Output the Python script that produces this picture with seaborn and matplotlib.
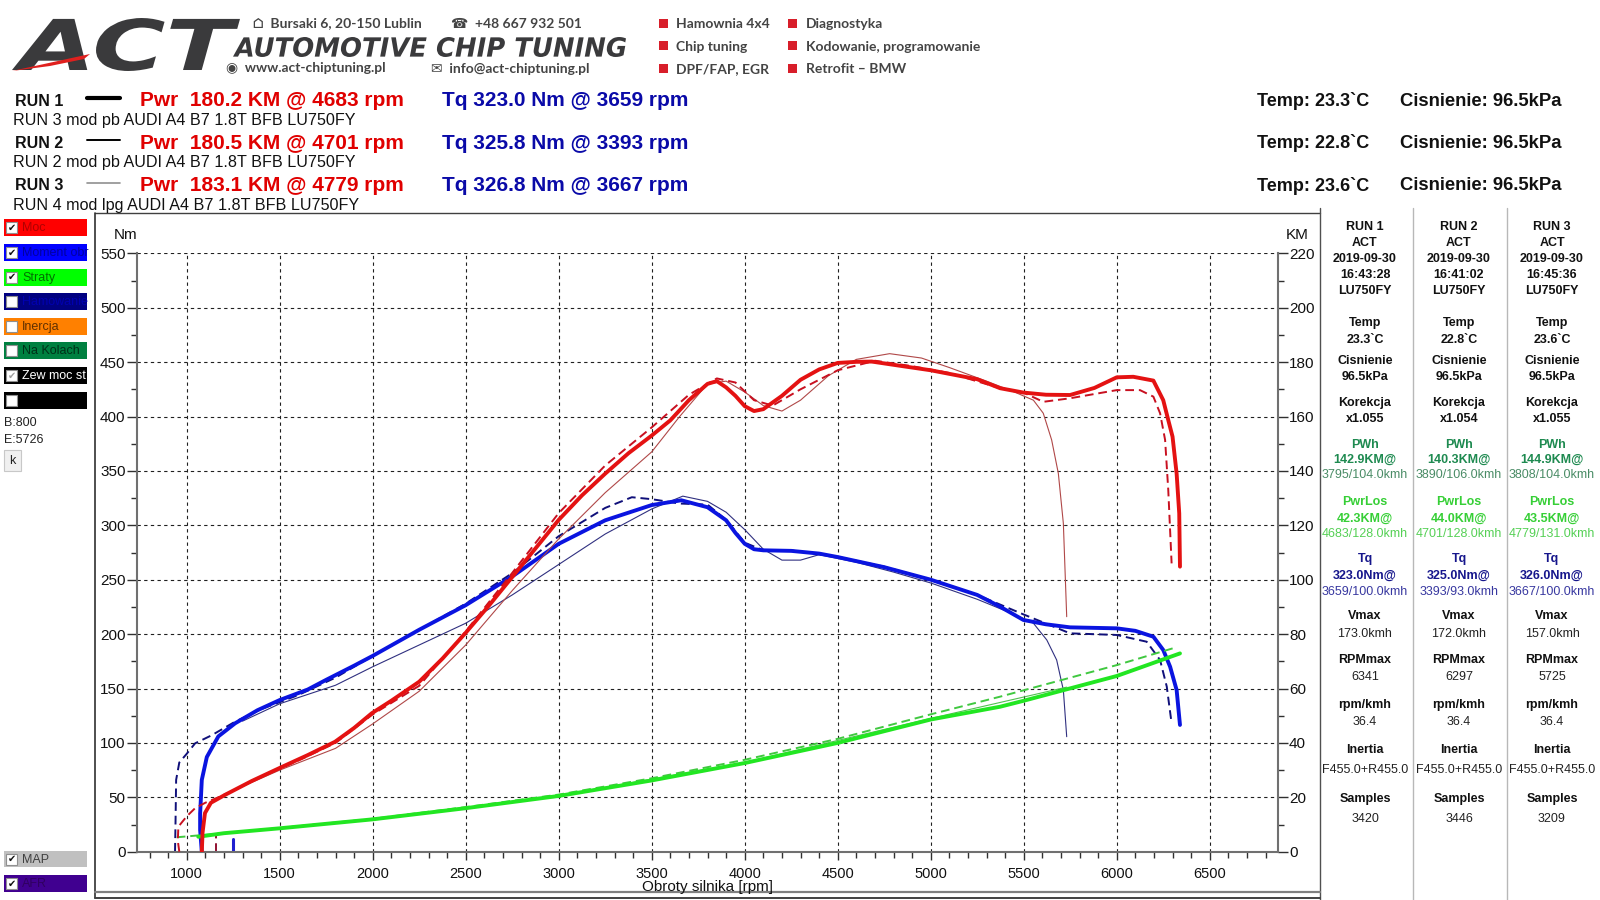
import matplotlib
matplotlib.use('Agg')
import numpy as np
import pandas as pd
import seaborn as sns
import matplotlib.pyplot as plt
from matplotlib.patches import Rectangle, Polygon, PathPatch
from matplotlib.lines import Line2D
from matplotlib.textpath import TextPath
from matplotlib.font_manager import FontProperties
from matplotlib.transforms import Affine2D
from matplotlib.ticker import MultipleLocator

# ---- dyno curves ----

# RUN 1 (thick solid)
r1_pwr_rpm = [1081, 1085, 1098, 1130, 1206, 1350, 1500, 1650, 1797, 1900, 1995, 2100, 2250, 2375, 2500,
              2625, 2750, 2875, 3000, 3125, 3250, 3375, 3500, 3600, 3700, 3800, 3850, 3900, 3950, 4000,
              4050, 4100, 4200, 4300, 4400, 4500, 4600, 4683, 4850, 5000, 5250, 5373, 5498, 5620, 5749,
              5880, 6000, 6089, 6197, 6250, 6277, 6300, 6322, 6336, 6340]
r1_pwr_km = [0, 7, 14.2, 18, 20.9, 26, 30.8, 35.5, 40.4, 45.5, 50.9, 55.5, 62.5, 71, 80.5,
             90.5, 101, 111.5, 122, 131, 139, 146.5, 153, 158.6, 166, 172, 173, 170.7, 167.6, 163.8,
             162, 162.7, 167.6, 173.5, 177.3, 179.7, 180.1, 180.2, 178.5, 177, 173.7, 170.4, 168.8, 168, 167.9,
             170.5, 174.4, 174.6, 173.2, 166, 158.7, 152.6, 139, 124.4, 104.8]
r1_tq_rpm = [1081, 1072, 1072, 1081, 1108, 1170, 1260, 1380, 1500, 1650, 1750, 1900, 2000, 2250, 2500,
             2750, 3000, 3250, 3500, 3659, 3800, 3900, 3950, 4000, 4050, 4100, 4250, 4400, 4500, 4750,
             5000, 5250, 5373, 5498, 5620, 5749, 6000, 6100, 6197, 6250, 6287, 6322, 6340]
r1_tq_nm = [0, 20, 35, 66, 87, 106, 118, 130, 139.4, 149, 158, 171, 180, 204, 226.6,
            253, 283, 304.6, 318.6, 323, 316.6, 304.6, 293, 283, 278, 277, 276.5, 274, 270.8, 261.5,
            250, 236, 225.2, 213, 209, 206.2, 205.3, 203, 197.6, 185.4, 170, 148.6, 116.5]
r1_loss_rpm = [1062, 1200, 1500, 2000, 2500, 3000, 3500, 4000, 4500, 5000, 5373, 5500, 6000, 6340]
r1_loss_km = [5.5, 6.8, 8.6, 11.9, 16.0, 20.5, 26.2, 32.6, 40, 48.6, 53.3, 55.5, 64.6, 72.9]

# RUN 2 (dashed)
r2_pwr_rpm = [960, 952, 955, 1000, 1045, 1100, 1170, 1250, 1400, 1600, 1800, 2000, 2250, 2500,
              2750, 3000, 3250, 3500, 3700, 3850, 3950, 4050, 4150, 4300, 4500, 4701, 4900, 5100,
              5373, 5498, 5605, 5749, 6000, 6125, 6197, 6233, 6260, 6277, 6295]
r2_pwr_km = [0, 4, 9.2, 13, 16, 18, 20, 22.5, 27.5, 33.5, 40, 50.5, 61, 81,
             102.5, 124.5, 142, 156, 168, 174, 172.5, 166, 164, 170, 177, 180.5, 178.5, 176,
             170.4, 168.8, 165.4, 166.7, 169.7, 169.7, 167.3, 161.2, 151.4, 133, 106]
r2_tq_rpm = [937, 940, 943, 960, 1000, 1045, 1134, 1260, 1400, 1600, 1800, 2000, 2250, 2500,
             2750, 3000, 3250, 3393, 3500, 3650, 3800, 3900, 4000, 4100, 4250, 4500, 4750, 5000,
             5250, 5500, 5749, 6000, 6161, 6233, 6269, 6295]
r2_tq_nm = [0, 30, 66, 82, 90, 99.6, 107, 119.5, 131, 144, 160, 180, 204, 228,
            256, 290, 316, 325.8, 324, 320, 319, 305, 284, 277, 277, 271, 262, 250,
            236, 218, 200.7, 199.2, 193, 176.2, 151.7, 118]
r2_loss_rpm = [946, 1200, 1500, 2000, 2500, 3000, 3500, 4000, 4500, 5000, 5373, 6000, 6303]
r2_loss_km = [5.3, 6.8, 8.7, 12.1, 16.4, 21, 27, 33.8, 41.5, 50.5, 57, 68.6, 74.8]

# RUN 3 (thin)
r3_pwr_rpm = [1300, 1500, 1800, 2000, 2250, 2500, 2750, 3000, 3250, 3500, 3650, 3800, 3900, 4000,
              4100, 4200, 4300, 4450, 4600, 4779, 4950, 5100, 5300, 5450, 5552, 5605, 5650, 5686, 5713, 5731]
r3_pwr_km = [24, 30, 38, 47, 59, 76, 96, 115, 132, 147, 160, 172, 173, 169,
             164, 162, 166, 175, 181, 183.1, 181.5, 178, 173, 169, 166, 161.2, 151.4, 139.1, 120.7, 86.4]
r3_tq_rpm = [1300, 1500, 1800, 2000, 2250, 2500, 2750, 3000, 3250, 3500, 3667, 3800, 3900, 4000,
             4100, 4200, 4300, 4400, 4600, 4800, 5000, 5250, 5450, 5552, 5624, 5677, 5713, 5731]
r3_tq_nm = [120, 136, 153, 170, 190, 210, 236, 264, 292, 315, 326.8, 322, 312, 296,
            278, 268, 268, 273, 266, 257, 247, 232, 218, 210, 194.6, 176.2, 148.6, 105.7]
r3_loss_rpm = [1300, 2000, 3000, 4000, 5000, 5731]
r3_loss_km = [7.6, 12, 20.6, 32.8, 49, 60.5]

# short start stubs near the bottom
stub_rpm = [1247, 1247]
stub_nm = [0, 12]
stub2_rpm = [1156, 1156]
stub2_nm = [0, 15]

# ---- header / table text ----
run_names = ['RUN 1', 'RUN 2', 'RUN 3']
run_desc = ['RUN 3 mod pb AUDI A4 B7 1.8T BFB LU750FY',
            'RUN 2 mod pb AUDI A4 B7 1.8T BFB LU750FY',
            'RUN 4 mod lpg AUDI A4 B7 1.8T BFB LU750FY']
run_pwr = [180.2, 180.5, 183.1]
run_pwr_rpm = [4683, 4701, 4779]
run_tq = [323.0, 325.8, 326.8]
run_tq_rpm = [3659, 3393, 3667]
run_temp = ['23.3', '22.8', '23.6']
run_press = ['96.5', '96.5', '96.5']

services_a = ['Hamownia 4x4', 'Chip tuning', 'DPF/FAP, EGR']
services_b = ['Diagnostyka', 'Kodowanie, programowanie', 'Retrofit – BMW']

tbl_time = ['16:43:28', '16:41:02', '16:45:36']
tbl_corr = ['x1.055', 'x1.054', 'x1.055']
tbl_pwh = ['142.9KM@', '140.3KM@', '144.9KM@']
tbl_pwh_at = ['3795/104.0kmh', '3890/106.0kmh', '3808/104.0kmh']
tbl_los = ['42.3KM@', '44.0KM@', '43.5KM@']
tbl_los_at = ['4683/128.0kmh', '4701/128.0kmh', '4779/131.0kmh']
tbl_tq = ['323.0Nm@', '325.0Nm@', '326.0Nm@']
tbl_tq_at = ['3659/100.0kmh', '3393/93.0kmh', '3667/100.0kmh']
tbl_vmax = ['173.0kmh', '172.0kmh', '157.0kmh']
tbl_rpmmax = ['6341', '6297', '5725']
tbl_rpmkmh = ['36.4', '36.4', '36.4']
tbl_inertia = ['F455.0+R455.0'] * 3
tbl_samples = ['3420', '3446', '3209']

chk_labels = ['Moc', 'Moment obr', 'Straty', 'Hamowanie', 'Inercja', 'Na Kolach', 'Zew moc st', '']
chk_bg = ['#ff0000', '#0000ff', '#00ff00', '#000080', '#ff8000', '#008040', '#000000', '#000000']
chk_fg = ['#b00000', '#0000a0', '#007000', '#0000b0', '#603000', '#003018', '#ffffff', '#ffffff']
chk_on = [True, True, True, False, False, False, True, False]

sns.set_theme(style='white')
plt.rcParams['font.family'] = ['Liberation Sans', 'DejaVu Sans']

W, H = 1600, 900
fig = plt.figure(figsize=(16, 9), dpi=100, facecolor='white')


def fx(x):
    return x / W


def fy(y):
    return 1 - y / H


def txt(x, y, s, **kw):
    kw.setdefault('va', 'center')
    fig.text(fx(x), fy(y), s, **kw)


def rect(x0, y0, x1, y1, **kw):
    fig.add_artist(Rectangle((fx(x0), fy(y1)), (x1 - x0) / W, (y1 - y0) / H,
                             transform=fig.transFigure, **kw))


def seg(x0, y0, x1, y1, **kw):
    fig.add_artist(Line2D([fx(x0), fx(x1)], [fy(y0), fy(y1)], transform=fig.transFigure, **kw))


def fit_text(s, x0, y0, x1, y1, color, **fp):
    tp = TextPath((0, 0), s, size=100, prop=FontProperties(**fp))
    bb = tp.get_extents()
    tr = Affine2D().translate(-bb.x0, -bb.y0).scale((x1 - x0) / bb.width / W,
                                                    (y1 - y0) / bb.height / H).translate(fx(x0), fy(y1))
    fig.add_artist(PathPatch(tr.transform_path(tp), fc=color, lw=0, transform=fig.transFigure))


# ---- main chart ----
ax = fig.add_axes([136.7 / W, 1 - 851.7 / H, (1278 - 136.7) / W, (851.7 - 253.3) / H])
ax2 = ax.twinx()

dash = (0, (4.5, 2.5))
sns.lineplot(x=r3_tq_rpm, y=r3_tq_nm, ax=ax, sort=False, estimator=None, color='#303080', lw=0.8)
sns.lineplot(x=r2_tq_rpm, y=r2_tq_nm, ax=ax, sort=False, estimator=None, color='#10107a', lw=1.4, ls=dash)
sns.lineplot(x=r1_tq_rpm, y=r1_tq_nm, ax=ax, sort=False, estimator=None, color='#0a14e0', lw=2.8)
sns.lineplot(x=stub_rpm, y=stub_nm, ax=ax, sort=False, estimator=None, color='#2020d0', lw=2.2)
sns.lineplot(x=stub2_rpm, y=stub2_nm, ax=ax, sort=False, estimator=None, color='#901030', lw=1.4, ls=dash)

sns.lineplot(x=r3_loss_rpm, y=r3_loss_km, ax=ax2, sort=False, estimator=None, color='#50c050', lw=0.8)
sns.lineplot(x=r2_loss_rpm, y=r2_loss_km, ax=ax2, sort=False, estimator=None, color='#40c840', lw=1.4, ls=dash)
sns.lineplot(x=r1_loss_rpm, y=r1_loss_km, ax=ax2, sort=False, estimator=None, color='#22e622', lw=2.8)
sns.lineplot(x=r3_pwr_rpm, y=r3_pwr_km, ax=ax2, sort=False, estimator=None, color='#b04848', lw=0.8)
sns.lineplot(x=r2_pwr_rpm, y=r2_pwr_km, ax=ax2, sort=False, estimator=None, color='#c81020', lw=1.4, ls=dash)
sns.lineplot(x=r1_pwr_rpm, y=r1_pwr_km, ax=ax2, sort=False, estimator=None, color='#e41212', lw=2.8)

ax.set_xlim(731, 6867)
ax.set_ylim(0, 550)
ax2.set_ylim(0, 220)
for a in (ax, ax2):
    a.set_xlabel('')
    a.set_ylabel('')
    a.spines['top'].set_visible(False)
ax.spines['right'].set_visible(False)
ax2.spines['left'].set_visible(False)
ax2.spines['bottom'].set_visible(False)
for sp in (ax.spines['left'], ax.spines['bottom'], ax2.spines['right']):
    sp.set_color('#707070')
    sp.set_linewidth(1.5)

ax.set_xticks(range(1000, 6501, 500))
ax.set_yticks(range(0, 551, 50))
ax2.set_yticks(range(0, 221, 20))
ax.xaxis.set_minor_locator(MultipleLocator(100))
ax.yaxis.set_minor_locator(MultipleLocator(25))
ax2.yaxis.set_minor_locator(MultipleLocator(10))
ax.tick_params(axis='both', which='both', direction='out', color='#303030', labelcolor='#111111')
ax.tick_params(axis='x', which='major', bottom=True, length=6, width=1, labelsize=10.5, pad=5)
ax.tick_params(axis='x', which='minor', bottom=True, length=4, width=1)
ax.tick_params(axis='y', which='major', left=True, length=7, width=1, labelsize=11, pad=1)
ax.tick_params(axis='y', which='minor', left=True, length=4, width=1)
ax2.tick_params(axis='y', which='major', right=True, left=False, length=7, width=1, labelsize=11, pad=1,
                color='#303030', labelcolor='#111111')
ax2.tick_params(axis='y', which='minor', right=True, left=False, length=4, width=1, color='#303030')
ax.grid(True, which='major', color='#202020', ls=(0, (3, 3)), lw=0.8)
ax2.grid(False)

txt(114, 235, 'Nm', fontsize=11, color='#111111')
txt(1286, 235, 'KM', fontsize=11, color='#111111')
txt(707, 887, 'Obroty silnika [rpm]', fontsize=11, ha='center', color='#111111')

# ---- panel frames ----
seg(95, 212.5, 1320, 212.5, color='#404040', lw=1)
seg(95, 212.5, 95, 898, color='#303030', lw=1.2)
seg(1319.5, 208, 1319.5, 900, color='#505050', lw=1)
seg(1413, 208, 1413, 900, color='#b8b8b8', lw=1)
seg(1506.5, 208, 1506.5, 900, color='#b8b8b8', lw=1)
seg(95, 891.5, 1320, 891.5, color='#808080', lw=1.6)
seg(95, 897.5, 1320, 897.5, color='#404040', lw=1.4)

# ---- left check boxes ----
for i, (lab, bg, fg, on) in enumerate(zip(chk_labels, chk_bg, chk_fg, chk_on)):
    y0 = 219.3 + i * 24.6
    rect(4, y0, 87, y0 + 17, fc=bg, ec='none')
    rect(6, y0 + 3, 17, y0 + 14, fc='white', ec='#909090', lw=0.8)
    if on:
        txt(11.5, y0 + 8.5, '✔', fontsize=7, ha='center', family=['DejaVu Sans'],
            color='#a0a0a0' if bg == '#000000' else '#111111')
    txt(22, y0 + 9, lab, fontsize=9, color=fg)

txt(4, 423, 'B:800', fontsize=9, color='#222222')
txt(4, 440, 'E:5726', fontsize=9, color='#222222')
rect(4, 450, 21, 471, fc='#f0f0f0', ec='#c8c8c8', lw=0.8)
txt(12.5, 461, 'k', fontsize=9, ha='center', color='#222222')

for i, (lab, bg, fg) in enumerate(zip(['MAP', 'AFR'], ['#c0c0c0', '#400090'], ['#404040', '#300060'])):
    y0 = 850.7 + i * 24.3
    rect(4, y0, 87, y0 + 16.5, fc=bg, ec='none')
    rect(6, y0 + 3, 17, y0 + 14, fc='white', ec='#909090', lw=0.8)
    txt(11.5, y0 + 8.5, '✔', fontsize=7, ha='center', family=['DejaVu Sans'], color='#111111')
    txt(22, y0 + 9, lab, fontsize=9, color=fg)

# ---- company header ----
fit_text('ACT', 12, 18, 240, 71, '#3a3a3c', family='DejaVu Sans', weight='bold', style='italic')
fig.add_artist(Polygon([(fx(12), fy(71)), (fx(90), fy(54)), (fx(84), fy(59)), (fx(50), fy(66))],
                       closed=True, fc='#e0201e', ec='none', transform=fig.transFigure))
fit_text('AUTOMOTIVE CHIP TUNING', 233, 37, 626, 57, '#3a3a3c',
         family='DejaVu Sans', weight='bold', style='italic')
hdr = dict(fontsize=10, color='#444444', weight='bold', family=['Lato', 'DejaVu Sans'])
txt(253, 23.5, '⌂  Bursaki 6, 20-150 Lublin', **hdr)
txt(451, 23.5, '☎  +48 667 932 501', **hdr)
txt(226, 68.5, '◉  www.act-chiptuning.pl', **hdr)
txt(431, 68.5, '✉  info@act-chiptuning.pl', **hdr)
for i, (a, b) in enumerate(zip(services_a, services_b)):
    y = 23.5 + i * 22.4
    rect(659, y - 4.5, 668, y + 4.5, fc='#d81e2a', ec='none')
    txt(676, y + 1, a, **hdr)
    rect(788, y - 4.5, 797, y + 4.5, fc='#d81e2a', ec='none')
    txt(806, y + 1, b, **hdr)

# ---- run summary rows ----
run_line = [dict(color='black', lw=3), dict(color='black', lw=1.4), dict(color='#909090', lw=1.2)]
for i in range(3):
    y = 101 + i * 42.3
    txt(15, y, run_names[i], fontsize=11.5, weight='bold', color='#111111')
    seg(87, y - 3, 120, y - 3, **run_line[i])
    txt(140, y, f'Pwr  {run_pwr[i]:.1f} KM @ {run_pwr_rpm[i]} rpm', fontsize=15, weight='bold',
        color='#e00000')
    txt(442, y, f'Tq {run_tq[i]:.1f} Nm @ {run_tq_rpm[i]} rpm', fontsize=15, weight='bold',
        color='#0a0aa8')
    txt(13, y + 19.5, run_desc[i], fontsize=11.6, color='#111111')
    txt(1257, y, f'Temp: {run_temp[i]}`C', fontsize=13, weight='bold', color='#111111')
    txt(1400, y, f'Cisnienie: {run_press[i]}kPa', fontsize=13.3, weight='bold', color='#111111')

# ---- results table ----
cols = [1365, 1459, 1552]
dark, green, lime, navy = '#111111', '#1e8a50', '#36cf36', '#16168c'
rows = [
    (225.5, run_names, 'bold', dark),
    (240.8, ['ACT'] * 3, 'bold', dark),
    (257.1, ['2019-09-30'] * 3, 'bold', dark),
    (273.5, tbl_time, 'bold', dark),
    (288.8, ['LU750FY'] * 3, 'bold', dark),
    (321.4, ['Temp'] * 3, 'bold', dark),
    (337.8, [t + '`C' for t in run_temp], 'bold', dark),
    (359.2, ['Cisnienie'] * 3, 'bold', dark),
    (374.5, [p + 'kPa' for p in run_press], 'bold', dark),
    (401.0, ['Korekcja'] * 3, 'bold', dark),
    (417.3, tbl_corr, 'bold', dark),
    (442.9, ['PWh'] * 3, 'bold', green),
    (458.2, tbl_pwh, 'bold', green),
    (473.5, tbl_pwh_at, 'normal', '#4a8c66'),
    (500.0, ['PwrLos'] * 3, 'bold', lime),
    (516.3, tbl_los, 'bold', lime),
    (531.6, tbl_los_at, 'normal', '#55d055'),
    (557.1, ['Tq'] * 3, 'bold', navy),
    (573.5, tbl_tq, 'bold', navy),
    (589.8, tbl_tq_at, 'normal', '#3838a0'),
    (614.3, ['Vmax'] * 3, 'bold', dark),
    (631.6, tbl_vmax, 'normal', '#222222'),
    (658.2, ['RPMmax'] * 3, 'bold', dark),
    (675.5, tbl_rpmmax, 'normal', '#222222'),
    (703.1, ['rpm/kmh'] * 3, 'bold', dark),
    (720.4, tbl_rpmkmh, 'normal', '#222222'),
    (748.0, ['Inertia'] * 3, 'bold', dark),
    (768.4, tbl_inertia, 'normal', '#222222'),
    (797.0, ['Samples'] * 3, 'bold', dark),
    (817.3, tbl_samples, 'normal', '#222222'),
]
for y, vals, wt, col in rows:
    for x, v in zip(cols, vals):
        txt(x, y + 2, v, fontsize=9, weight=wt, color=col, ha='center')

fig.savefig('out.png', dpi=100, facecolor='white')
